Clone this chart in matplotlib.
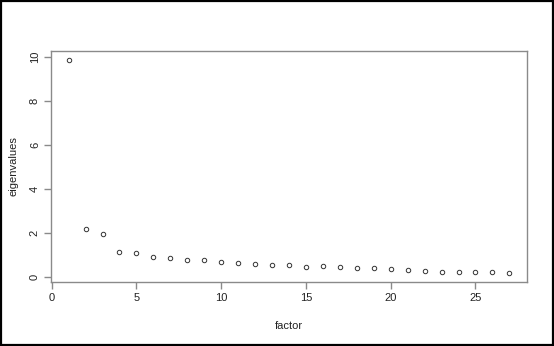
import matplotlib
matplotlib.use("Agg")
import matplotlib.pyplot as plt
from matplotlib.patches import Rectangle

factor = list(range(1, 28))
eigenvalues = [9.85, 2.18, 1.95, 1.14, 1.09, 0.91, 0.85, 0.79, 0.76, 0.67,
               0.62, 0.59, 0.55, 0.54, 0.47, 0.48, 0.44, 0.42, 0.39, 0.36,
               0.32, 0.27, 0.24, 0.24, 0.23, 0.21, 0.18]
xticks = [0, 5, 10, 15, 20, 25]
yticks = [0, 2, 4, 6, 8, 10]

plt.rcParams['font.family'] = ['Liberation Sans', 'DejaVu Sans']

fig = plt.figure(figsize=(5.54, 3.46), dpi=100)
ax = fig.add_axes([51/554, 1-282/346, (527-51)/554, (282-50.5)/346])

ax.plot(factor, eigenvalues, linestyle='none', marker='o', markersize=3.2,
        markerfacecolor='white', markeredgecolor='#333333', markeredgewidth=0.7)

ax.set_xlim(-0.04, 28.04)
ax.set_ylim(-0.23, 10.29)
ax.set_xticks(xticks)
ax.set_yticks(yticks)
ax.set_yticklabels([str(v) for v in yticks], rotation=90, va='center')

grey = '#8a8a8a'
for s in ax.spines.values():
    s.set_color(grey)
    s.set_linewidth(1.0)
ax.tick_params(direction='out', length=5, width=1, color=grey,
               labelsize=8, labelcolor='#222222', pad=3)
ax.set_xlabel('factor', fontsize=8, color='#222222', labelpad=13)
ax.set_ylabel('eigenvalues', fontsize=8, color='#222222', labelpad=8)

fig.patches.append(Rectangle((0.001, 0.003), 0.997, 0.995, transform=fig.transFigure,
                             fill=False, edgecolor='black', linewidth=1.6))

fig.savefig('out.png', dpi=100, facecolor='white')
